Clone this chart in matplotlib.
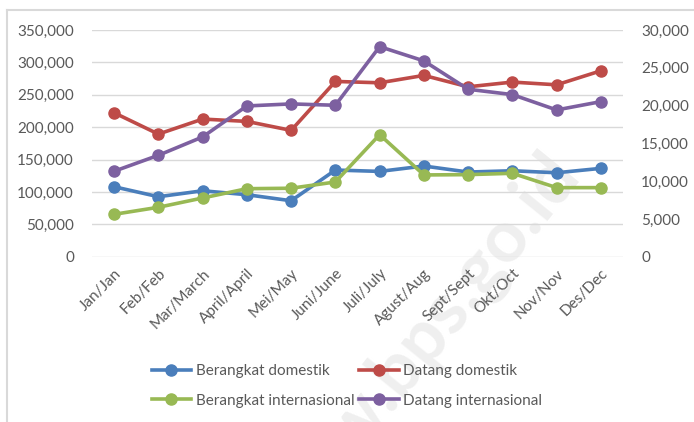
import matplotlib.pyplot as plt
from matplotlib.lines import Line2D
from matplotlib.ticker import FuncFormatter

# months (Indonesian/English)
months = ['Jan/Jan', 'Feb/Feb', 'Mar/March', 'April/April', 'Mei/May', 'Juni/June',
          'Juli/July', 'Agust/Aug', 'Sept/Sept', 'Okt/Oct', 'Nov/Nov', 'Des/Dec']

# domestic passengers (left axis)
berangkat_dom = [108000, 92600, 101800, 95700, 86400, 133800,
                 131700, 140000, 130700, 132700, 129600, 136400]
datang_dom = [222200, 189300, 212500, 208900, 195000, 270600,
              268500, 279900, 262300, 269600, 265400, 287000]

# international passengers (right axis)
berangkat_int = [5610, 6540, 7770, 9000, 9060, 9890,
                 16150, 10820, 10860, 11040, 9140, 9140]
datang_int = [11310, 13420, 15850, 19950, 20220, 20040,
              27800, 25910, 22160, 21450, 19420, 20520]

plt.rcParams['font.family'] = ['Lato', 'DejaVu Sans']
txt = '#595959'
grid = '#d9d9d9'
colors = ['#4a7ebb', '#be4b48', '#98b954', '#7d60a0']

fig = plt.figure(figsize=(6.94, 4.22), dpi=100)

# watermark
fig.text(0.6, 0.17, 'www.bps.go.id', fontsize=52, fontweight='bold', color='#efefef',
         rotation=51, ha='center', va='center', zorder=-5)

ax = fig.add_axes([0.1326, 0.3917, 0.7651, 0.5372])
ax2 = ax.twinx()
ax.patch.set_alpha(0)
ax2.patch.set_alpha(0)

x = range(len(months))
kw = dict(lw=2.6, marker='o', ms=8, solid_capstyle='round')
ax.plot(x, berangkat_dom, color=colors[0], **kw)
ax.plot(x, datang_dom, color=colors[1], **kw)
ax2.plot(x, berangkat_int, color=colors[2], **kw)
ax2.plot(x, datang_int, color=colors[3], **kw)

ax.set_xlim(-0.5, 11.5)
ax.set_ylim(0, 350000)
ax2.set_ylim(0, 30000)
ax.set_yticks(range(0, 350001, 50000))
ax2.set_yticks(range(0, 30001, 5000))
fmt = FuncFormatter(lambda v, p: f'{int(v):,}')
ax.yaxis.set_major_formatter(fmt)
ax2.yaxis.set_major_formatter(fmt)

ax.grid(axis='y', color=grid, lw=1)
ax.set_axisbelow(True)
for a in (ax, ax2):
    for s in a.spines.values():
        s.set_visible(False)
    a.tick_params(length=0, colors=txt, labelsize=11)
ax.tick_params(axis='y', pad=13)
ax2.tick_params(axis='y', pad=13)

ax.set_xticks(list(x))
ax.set_xticklabels(months, rotation=45, ha='right', rotation_mode='anchor', fontsize=11)
ax.tick_params(axis='x', pad=7)

# legend: rows are domestic / international
order = [0, 2, 1, 3]
names = ['Berangkat domestik', 'Datang domestik', 'Berangkat internasional', 'Datang internasional']
handles = [Line2D([], [], color=colors[i], lw=2.6, marker='o', ms=8) for i in order]
labels = [names[i] for i in order]
fig.legend(handles, labels, ncol=2, loc='center', bbox_to_anchor=(0.5, 0.085),
           frameon=False, fontsize=11, labelcolor=txt, handlelength=2.6,
           handletextpad=0.3, columnspacing=0.3, labelspacing=1.0)

# chart border (top and left)
fig.add_artist(Line2D([0.01, 1.0], [0.976, 0.976], color='#d9d9d9', lw=1.5))
fig.add_artist(Line2D([0.01, 0.01], [0.0, 0.976], color='#d9d9d9', lw=1.5))

fig.savefig('out.png', dpi=100)
